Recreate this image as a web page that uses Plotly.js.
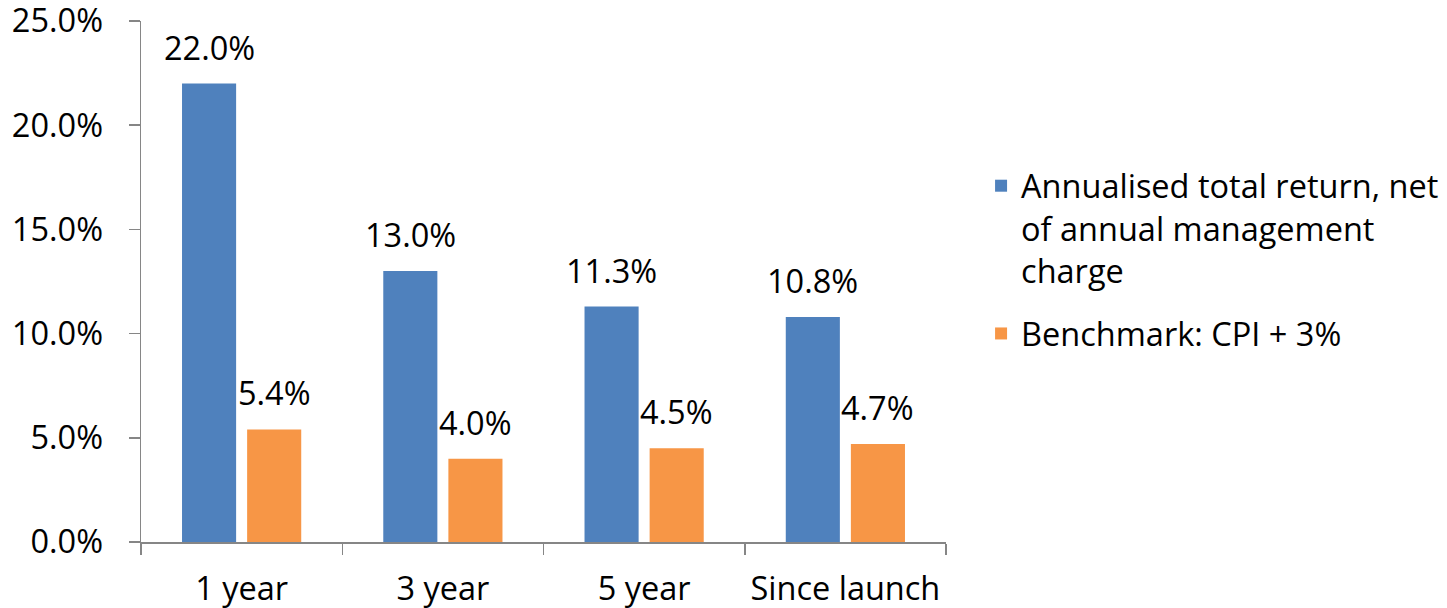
<!DOCTYPE html>
<html>
<head>
<meta charset="utf-8">
<script src="https://cdn.plot.ly/plotly-3.0.1.min.js"></script>
<style>html,body{margin:0;padding:0;background:#fff;}#chart{width:1447px;height:608px;}</style>
</head>
<body>
<div id="chart"></div>
<script>
const categories = ["1 year", "3 year", "5 year", "Since launch"];
const seriesNames = ["Annualised total return, net<br>of annual management<br>charge", "Benchmark: CPI + 3%"];
const fundReturn = [0.220, 0.130, 0.113, 0.108];
const benchmark = [0.054, 0.040, 0.045, 0.047];
const yTickVals = [0, 0.05, 0.10, 0.15, 0.20, 0.25];
const yTickText = ["0.0%", "5.0%", "10.0%", "15.0%", "20.0%", "25.0%"];
const colors = ["#4F81BD", "#F79646"];

const FONT = "Open Sans, Calibri, sans-serif";
const FS = 32.5;
const data = [
  {type: "bar", name: seriesNames[0], legendgroup: "a", x: categories, y: fundReturn, marker: {color: colors[0]}, hoverinfo: "none"},
  {type: "bar", name: seriesNames[1], legendgroup: "b", x: categories, y: benchmark, marker: {color: colors[1]}, hoverinfo: "none"}
];

const annotations = [];
[fundReturn, benchmark].forEach((vals, si) => {
  vals.forEach((v, i) => {
    annotations.push({
      x: categories[i], y: v, xref: "x", yref: "y",
      text: (v * 100).toFixed(1) + "%",
      showarrow: false, yanchor: "bottom", xanchor: "center",
      xshift: si === 0 ? -32.5 : 32.5, yshift: 12,
      font: {family: FONT, size: FS, color: "#000"}
    });
  });
});

const layout = {
  width: 1447, height: 608,
  margin: {l: 141, r: 501, t: 21, b: 66},
  paper_bgcolor: "#fff", plot_bgcolor: "#fff",
  barmode: "group", bargap: 0.353, bargroupgap: 0.169,
  font: {family: FONT, size: FS, color: "#000"},
  showlegend: true,
  legend: {xref: "container", yref: "container", x: 0.678, xanchor: "left", y: 0.74, yanchor: "top", valign: "top",
           font: {family: FONT, size: FS, color: "#000"}, itemwidth: 30, tracegroupgap: 18},
  xaxis: {
    type: "category", showline: true, linecolor: "#868686", linewidth: 1.5,
    ticks: "outside", tickson: "boundaries", ticklen: 11, tickcolor: "#868686", tickwidth: 1.5,
    showgrid: false, zeroline: false, ticklabelstandoff: 17, tickangle: 0,
    tickfont: {family: FONT, size: FS, color: "#000"}
  },
  yaxis: {
    range: [0, 0.25], tickmode: "array", tickvals: yTickVals, ticktext: yTickText,
    showline: true, linecolor: "#868686", linewidth: 1.5,
    ticks: "outside", ticklen: 11, tickcolor: "#868686", tickwidth: 1.5,
    showgrid: false, zeroline: false, ticklabeloverflow: "allow", ticklabelstandoff: 19,
    tickfont: {family: FONT, size: FS, color: "#000"}
  },
  annotations: annotations
};

Plotly.newPlot("chart", data, layout, {staticPlot: true, displayModeBar: false});
</script>
</body>
</html>
